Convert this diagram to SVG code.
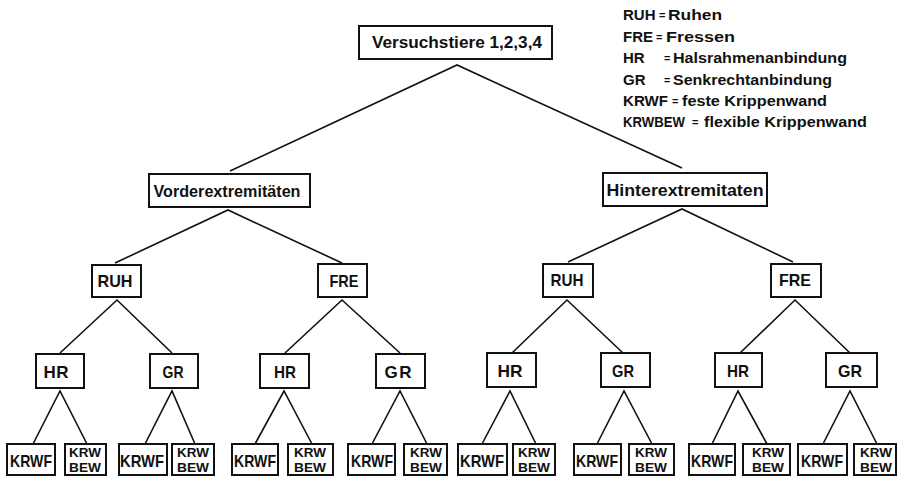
<svg xmlns="http://www.w3.org/2000/svg" width="897" height="477" viewBox="0 0 897 477">
<style>
.box{fill:#fff;stroke:#111;stroke-width:2}
.ln{stroke:#111;stroke-width:1.6;fill:none}
.t{font-family:"Liberation Sans",Arial,sans-serif;font-weight:bold;fill:#111;text-anchor:middle}
.lg{font-family:"Liberation Sans",Arial,sans-serif;font-weight:bold;fill:#111;font-size:15px}
.eq{font-family:"Liberation Sans",Arial,sans-serif;font-weight:bold;fill:#111;font-size:11px}
.n1{font-size:17px}
.n2{font-size:17px}
.lf{font-size:17px}
.lf2{font-size:13px}
</style>
<rect width="897" height="477" fill="#fff"/>
<g id="legend">
<text class="lg" x="623" y="20">RUH</text><text class="eq" x="659" y="19">=</text><text class="lg" x="668" y="20" textLength="54" lengthAdjust="spacingAndGlyphs">Ruhen</text>
<text class="lg" x="623" y="42">FRE</text><text class="eq" x="656" y="41">=</text><text class="lg" x="666" y="42" textLength="69" lengthAdjust="spacingAndGlyphs">Fressen</text>
<text class="lg" x="623" y="63">HR</text><text class="eq" x="664" y="62">=</text><text class="lg" x="673" y="63" textLength="174" lengthAdjust="spacingAndGlyphs">Halsrahmenanbindung</text>
<text class="lg" x="623" y="85">GR</text><text class="eq" x="664" y="84">=</text><text class="lg" x="673" y="85" textLength="159" lengthAdjust="spacingAndGlyphs">Senkrechtanbindung</text>
<text class="lg" x="623" y="106" textLength="45" lengthAdjust="spacingAndGlyphs">KRWF</text><text class="eq" x="672" y="105">=</text><text class="lg" x="682" y="106" textLength="145" lengthAdjust="spacingAndGlyphs">feste Krippenwand</text>
<text class="lg" x="623" y="127" textLength="62" lengthAdjust="spacingAndGlyphs">KRWBEW</text><text class="eq" x="692" y="126">=</text><text class="lg" x="704" y="127" textLength="163" lengthAdjust="spacingAndGlyphs">flexible Krippenwand</text>
</g>
<g id="connectors">
<polyline class="ln" points="230,171 457,65 682,168"/>
<polyline class="ln" points="115,263 228,210 342,263"/>
<polyline class="ln" points="568,262 682,209 793,262"/>
<polyline class="ln" points="60,353 117,300 172,353"/>
<polyline class="ln" points="285,353 342,300 400,353"/>
<polyline class="ln" points="512,353 567,300 623,353"/>
<polyline class="ln" points="740,353 795,300 850,353"/>
<polyline class="ln" points="33,444 60,391 87,444"/>
<polyline class="ln" points="145,444 172,391 195,444"/>
<polyline class="ln" points="255,444 284,391 312,444"/>
<polyline class="ln" points="372,444 400,391 427,444"/>
<polyline class="ln" points="482,444 510,391 536,444"/>
<polyline class="ln" points="597,444 624,391 652,444"/>
<polyline class="ln" points="712,444 738,391 767,444"/>
<polyline class="ln" points="823,444 850,391 877,444"/>
</g>
<g id="root"><rect class="box" x="359" y="26" width="193" height="33"/><text class="t n1" x="457" y="48" textLength="170" lengthAdjust="spacingAndGlyphs">Versuchstiere 1,2,3,4</text></g>
<g id="vorder"><rect class="box" x="149" y="174" width="161" height="33"/><text class="t n1" x="227" y="197" textLength="147" lengthAdjust="spacingAndGlyphs">Vorderextremitäten</text></g>
<g id="hinter"><rect class="box" x="603" y="173" width="164" height="33"/><text class="t n1" x="685" y="196" textLength="157" lengthAdjust="spacingAndGlyphs">Hinterextremitaten</text></g>
<g id="v-ruh"><rect class="box" x="92" y="265" width="49" height="32"/><text class="t n1" x="115" y="287" textLength="35" lengthAdjust="spacingAndGlyphs">RUH</text></g>
<g id="v-fre"><rect class="box" x="318" y="264" width="49" height="33"/><text class="t n1" x="344" y="287" textLength="29" lengthAdjust="spacingAndGlyphs">FRE</text></g>
<g id="h-ruh"><rect class="box" x="543" y="264" width="50" height="33"/><text class="t n1" x="567" y="286" textLength="33" lengthAdjust="spacingAndGlyphs">RUH</text></g>
<g id="h-fre"><rect class="box" x="771" y="264" width="50" height="33"/><text class="t n1" x="795" y="286" textLength="32" lengthAdjust="spacingAndGlyphs">FRE</text></g>
<g id="hr1"><rect class="box" x="36" y="354" width="48" height="34"/><text class="t n2" x="56" y="378" textLength="25" lengthAdjust="spacing">HR</text></g>
<g id="gr1"><rect class="box" x="150" y="354" width="48" height="34"/><text class="t n2" x="173" y="378" textLength="21" lengthAdjust="spacingAndGlyphs">GR</text></g>
<g id="hr2"><rect class="box" x="260" y="354" width="49" height="34"/><text class="t n2" x="285" y="378" textLength="22" lengthAdjust="spacingAndGlyphs">HR</text></g>
<g id="gr2"><rect class="box" x="376" y="354" width="49" height="34"/><text class="t n2" x="398" y="378" textLength="27" lengthAdjust="spacing">GR</text></g>
<g id="hr3"><rect class="box" x="487" y="353" width="49" height="34"/><text class="t n2" x="510" y="377" textLength="25" lengthAdjust="spacingAndGlyphs">HR</text></g>
<g id="gr3"><rect class="box" x="601" y="353" width="49" height="34"/><text class="t n2" x="623" y="377" textLength="22" lengthAdjust="spacingAndGlyphs">GR</text></g>
<g id="hr4"><rect class="box" x="715" y="353" width="47" height="34"/><text class="t n2" x="738" y="377" textLength="22" lengthAdjust="spacingAndGlyphs">HR</text></g>
<g id="gr4"><rect class="box" x="826" y="353" width="51" height="34"/><text class="t n2" x="850" y="377" textLength="24" lengthAdjust="spacingAndGlyphs">GR</text></g>
<g id="l1"><rect class="box" x="7" y="444" width="48" height="31"/><text class="t lf" x="31" y="467" textLength="42" lengthAdjust="spacingAndGlyphs">KRWF</text></g>
<g id="l2"><rect class="box" x="65" y="444" width="41" height="31"/><text class="t lf2" x="85" y="457" textLength="32" lengthAdjust="spacingAndGlyphs">KRW</text><text class="t lf2" x="85" y="472" textLength="32" lengthAdjust="spacingAndGlyphs">BEW</text></g>
<g id="l3"><rect class="box" x="119" y="444" width="48" height="31"/><text class="t lf" x="142" y="467" textLength="44" lengthAdjust="spacingAndGlyphs">KRWF</text></g>
<g id="l4"><rect class="box" x="172" y="444" width="42" height="31"/><text class="t lf2" x="193" y="457" textLength="32" lengthAdjust="spacingAndGlyphs">KRW</text><text class="t lf2" x="193" y="472" textLength="32" lengthAdjust="spacingAndGlyphs">BEW</text></g>
<g id="l5"><rect class="box" x="232" y="444" width="46" height="31"/><text class="t lf" x="255" y="467" textLength="42" lengthAdjust="spacingAndGlyphs">KRWF</text></g>
<g id="l6"><rect class="box" x="288" y="444" width="45" height="31"/><text class="t lf2" x="310" y="457" textLength="32" lengthAdjust="spacingAndGlyphs">KRW</text><text class="t lf2" x="310" y="472" textLength="32" lengthAdjust="spacingAndGlyphs">BEW</text></g>
<g id="l7"><rect class="box" x="348" y="444" width="47" height="31"/><text class="t lf" x="372" y="467" textLength="42" lengthAdjust="spacingAndGlyphs">KRWF</text></g>
<g id="l8"><rect class="box" x="404" y="444" width="43" height="31"/><text class="t lf2" x="426" y="457" textLength="32" lengthAdjust="spacingAndGlyphs">KRW</text><text class="t lf2" x="426" y="472" textLength="32" lengthAdjust="spacingAndGlyphs">BEW</text></g>
<g id="l9"><rect class="box" x="458" y="444" width="49" height="31"/><text class="t lf" x="482" y="467" textLength="44" lengthAdjust="spacingAndGlyphs">KRWF</text></g>
<g id="l10"><rect class="box" x="513" y="444" width="42" height="31"/><text class="t lf2" x="534" y="457" textLength="32" lengthAdjust="spacingAndGlyphs">KRW</text><text class="t lf2" x="534" y="472" textLength="32" lengthAdjust="spacingAndGlyphs">BEW</text></g>
<g id="l11"><rect class="box" x="574" y="444" width="47" height="31"/><text class="t lf" x="597" y="467" textLength="42" lengthAdjust="spacingAndGlyphs">KRWF</text></g>
<g id="l12"><rect class="box" x="629" y="444" width="45" height="31"/><text class="t lf2" x="651" y="457" textLength="32" lengthAdjust="spacingAndGlyphs">KRW</text><text class="t lf2" x="651" y="472" textLength="32" lengthAdjust="spacingAndGlyphs">BEW</text></g>
<g id="l13"><rect class="box" x="689" y="444" width="46" height="31"/><text class="t lf" x="712" y="467" textLength="42" lengthAdjust="spacingAndGlyphs">KRWF</text></g>
<g id="l14"><rect class="box" x="743" y="444" width="47" height="31"/><text class="t lf2" x="768" y="457" textLength="32" lengthAdjust="spacingAndGlyphs">KRW</text><text class="t lf2" x="768" y="472" textLength="32" lengthAdjust="spacingAndGlyphs">BEW</text></g>
<g id="l15"><rect class="box" x="798" y="444" width="49" height="31"/><text class="t lf" x="822" y="467" textLength="42" lengthAdjust="spacingAndGlyphs">KRWF</text></g>
<g id="l16"><rect class="box" x="854" y="444" width="42" height="31"/><text class="t lf2" x="876" y="457" textLength="32" lengthAdjust="spacingAndGlyphs">KRW</text><text class="t lf2" x="876" y="472" textLength="32" lengthAdjust="spacingAndGlyphs">BEW</text></g>
</svg>
